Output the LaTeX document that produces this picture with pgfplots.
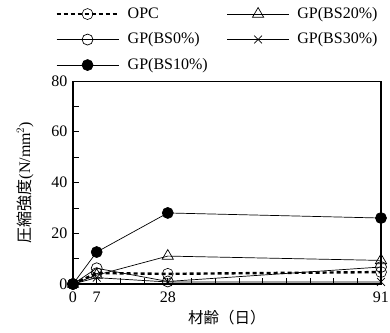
\documentclass[border=0pt]{standalone}
\usepackage{pgfplots}
\pgfplotsset{compat=1.18}
\usepackage{fontspec}
\setmainfont{Liberation Serif}
\newfontfamily\jp{Noto Sans CJK JP}
\pgfplotsset{every axis plot post/.append style={
  legend image code/.code={\draw[mark repeat=2,mark phase=2,#1] plot coordinates {(0pt,0pt)(31pt,0pt)(62pt,0pt)};}}}
\begin{document}
\fontsize{16}{19}\selectfont
\begin{tikzpicture}
\begin{axis}[
  scale only axis, width=308pt, height=203pt,
  xmin=0, xmax=91, ymin=0, ymax=80,
  xtick={0,7,28,91},
  minor xtick={14,21,35,42,49,56,63,70,77,84},
  ytick={0,20,40,60,80},
  minor ytick={10,30,50,70},
  tick pos=left, tick align=inside,
  major tick length=6pt, minor tick length=6pt,
  every tick/.style={black, line width=0.6pt},
  axis line style={line width=0.8pt},
  /pgf/number format/assume math mode=true,
  tick label style={font=\fontsize{16}{19}\selectfont},
  xticklabel style={yshift=-2pt},
  clip=false,
  xlabel={\jp 材齢（日）},
  ylabel={{\jp 圧縮強度}(N/mm$^2$)},
  every axis x label/.style={at={(rel axis cs:0.5,0)}, anchor=center, yshift=-34pt, font=\fontsize{15.5}{18}\selectfont},
  every axis y label/.style={at={(rel axis cs:0,0.5)}, xshift=-48pt, rotate=90, anchor=center, font=\fontsize{16}{19}\selectfont},
  legend columns=2,
  legend cell align=left,
  legend style={draw=none, fill=none, at={(-0.058,1.369)}, anchor=north west, inner sep=0pt,
    font=\fontsize{16}{19}\selectfont, row sep=10pt,
    nodes={inner sep=1pt},
    /tikz/every odd column/.append style={column sep=7pt},
    /tikz/every even column/.append style={column sep=18pt}},
]
\addplot[black, line width=2.4pt, dash pattern=on 4pt off 3pt, mark=o, mark size=5.5pt, mark options={solid, line width=0.6pt, fill=white}]
  coordinates {(0,0)(7,4.3)(28,4.0)(91,4.7)};
\addlegendentry{OPC}
\addplot[black, line width=0.7pt, mark=triangle, mark size=6.5pt, mark options={fill=white}]
  coordinates {(0,0)(7,3.5)(28,11)(91,9.3)};
\addlegendentry{GP(BS20\%)}
\addplot[black, line width=0.7pt, mark=o, mark size=5.5pt, mark options={fill=white}]
  coordinates {(0,0)(7,6.2)(28,1.0)(91,6.7)};
\addlegendentry{GP(BS0\%)}
\addplot[black, line width=0.7pt, mark=x, mark size=5.5pt]
  coordinates {(0,0)(7,2.5)(28,0.8)(91,0.8)};
\addlegendentry{GP(BS30\%)}
\addplot[black, line width=0.7pt, mark=*, mark size=5.5pt, mark options={fill=black}]
  coordinates {(0,0)(7,12.6)(28,28)(91,26)};
\addlegendentry{GP(BS10\%)}
\end{axis}
\draw[line width=2.2pt] (current axis.south west) -- (current axis.north west);
\draw[line width=2.2pt] (current axis.south west) -- (current axis.south east);
\draw[line width=1.8pt] (current axis.south east) -- (current axis.north east);
\pgfresetboundingbox
\path[use as bounding box] (current axis.south west) ++(-73pt,-48pt) rectangle ++(390pt,332pt);
\end{tikzpicture}
\end{document}
